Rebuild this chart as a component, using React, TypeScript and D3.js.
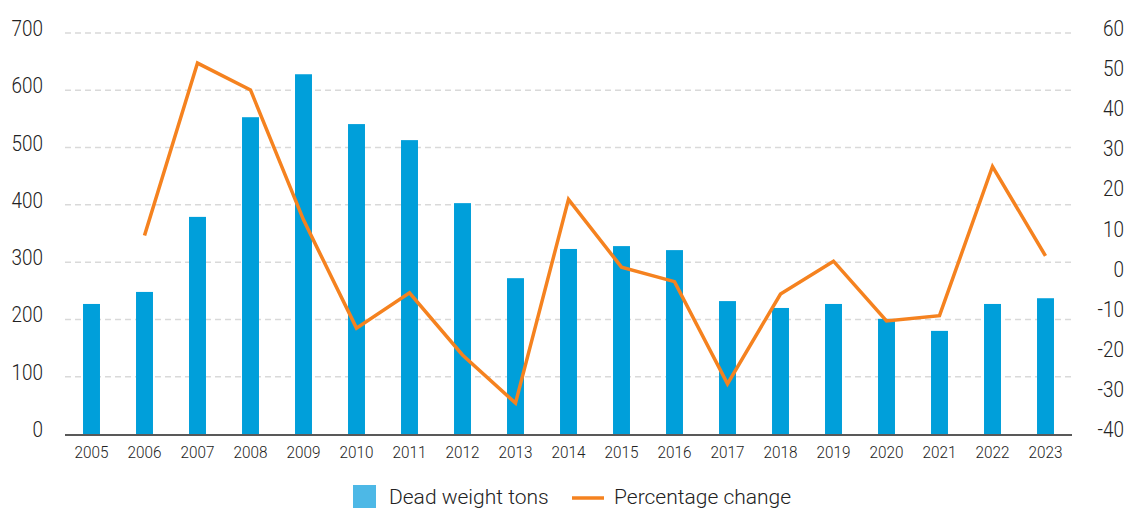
import React, { useEffect, useRef } from "react";
import * as d3 from "d3";

const years = ["2005", "2006", "2007", "2008", "2009", "2010", "2011", "2012", "2013", "2014",
  "2015", "2016", "2017", "2018", "2019", "2020", "2021", "2022", "2023"];
const tons = [227, 248, 379, 553, 628, 541, 513, 403, 272, 323, 328, 321, 232, 220, 227, 201, 180, 227, 237];
const pctChange: (number | null)[] = [null, 9.5, 52.5, 45.8, 13.4, -13.6, -4.8, -20.3, -32.3, 18.5,
  1.6, -2, -27.5, -5.1, 3.1, -11.8, -10.5, 26.7, 4.4];
const leftTicks = [0, 100, 200, 300, 400, 500, 600, 700];
const rightTicks = [-40, -30, -20, -10, 0, 10, 20, 30, 40, 50, 60];

const FONT = "Roboto, 'Noto Sans', sans-serif";
const SX = 0.86; // narrow the glyphs a bit, like a condensed face

export default function App() {
  const ref = useRef<SVGSVGElement>(null);

  useEffect(() => {
    const width = 1129;
    const height = 512;
    const margin = { top: 33, left: 65, bottom: 78, right: 57 };
    const iwidth = width - margin.left - margin.right;
    const iheight = height - margin.top - margin.bottom;

    const svg = d3.select(ref.current);
    svg.selectAll("*").remove();

    const g = svg.append("g").attr("transform", `translate(${margin.left},${margin.top})`);

    const x = d3.scaleBand().domain(years).range([0, iwidth]).paddingInner(0.68).paddingOuter(0.34);
    const yL = d3.scaleLinear().domain([0, 700]).range([iheight, 0]);
    const yR = d3.scaleLinear().domain([-40, 60]).range([iheight, 0]);

    // gridlines
    g.selectAll("line.grid")
      .data(leftTicks.filter(d => d > 0))
      .enter().append("line")
      .attr("class", "grid")
      .attr("x1", 0).attr("x2", iwidth)
      .attr("y1", d => yL(d)).attr("y2", d => yL(d))
      .attr("stroke", "#d9d9d9")
      .attr("stroke-width", 1.5)
      .attr("stroke-dasharray", "6,4");

    // bars
    g.selectAll("rect.bar")
      .data(tons)
      .enter().append("rect")
      .attr("class", "bar")
      .attr("x", (d, i) => x(years[i])!)
      .attr("y", d => yL(d))
      .attr("width", x.bandwidth())
      .attr("height", d => iheight - yL(d))
      .attr("fill", "#009fda");

    // baseline
    g.append("line")
      .attr("x1", 0).attr("x2", iwidth)
      .attr("y1", iheight + 1).attr("y2", iheight + 1)
      .attr("stroke", "#222")
      .attr("stroke-width", 1.5);

    // line
    const line = d3.line<number | null>()
      .defined(d => d !== null)
      .x((d, i) => x(years[i])! + x.bandwidth() / 2)
      .y(d => yR(d as number));

    g.append("path")
      .datum(pctChange)
      .attr("d", line)
      .attr("fill", "none")
      .attr("stroke", "#f5821f")
      .attr("stroke-width", 3.5)
      .attr("stroke-linejoin", "miter");

    // left axis labels
    g.selectAll("text.yl")
      .data(leftTicks)
      .enter().append("text")
      .attr("class", "yl")
      .attr("transform", d => `translate(-22,${yL(d) + 3}) scale(${SX},1)`)
      .attr("text-anchor", "end")
      .attr("font-family", FONT)
      .attr("font-weight", 300)
      .attr("font-size", 22)
      .attr("fill", "#222")
      .text(d => d);

    // right axis labels
    g.selectAll("text.yr")
      .data(rightTicks)
      .enter().append("text")
      .attr("class", "yr")
      .attr("transform", d => `translate(${iwidth + 52},${yR(d) + 3}) scale(${SX},1)`)
      .attr("text-anchor", "end")
      .attr("font-family", FONT)
      .attr("font-weight", 300)
      .attr("font-size", 22)
      .attr("fill", "#222")
      .text(d => d);

    // x labels
    g.selectAll("text.xl")
      .data(years)
      .enter().append("text")
      .attr("class", "xl")
      .attr("transform", d => `translate(${x(d)! + x.bandwidth() / 2},${iheight + 24}) scale(0.9,1)`)
      .attr("text-anchor", "middle")
      .attr("font-family", FONT)
      .attr("font-weight", 300)
      .attr("font-size", 17)
      .attr("fill", "#222")
      .text(d => d);

    // legend
    const legend = svg.append("g");
    legend.append("rect")
      .attr("x", 353).attr("y", 485)
      .attr("width", 23).attr("height", 23)
      .attr("fill", "#4db8e6");
    legend.append("text")
      .attr("x", 389).attr("y", 504)
      .attr("font-family", FONT)
      .attr("font-weight", 300)
      .attr("font-size", 21)
      .attr("fill", "#222")
      .text("Dead weight tons");
    legend.append("line")
      .attr("x1", 572).attr("x2", 604)
      .attr("y1", 498).attr("y2", 498)
      .attr("stroke", "#f5821f")
      .attr("stroke-width", 3.5);
    legend.append("text")
      .attr("x", 614).attr("y", 504)
      .attr("font-family", FONT)
      .attr("font-weight", 300)
      .attr("font-size", 21)
      .attr("fill", "#222")
      .text("Percentage change");
  }, []);

  return (
    <svg ref={ref} width={1129} height={512} style={{ display: "block", position: "absolute", left: 0, top: 0 }} />
  );
}
